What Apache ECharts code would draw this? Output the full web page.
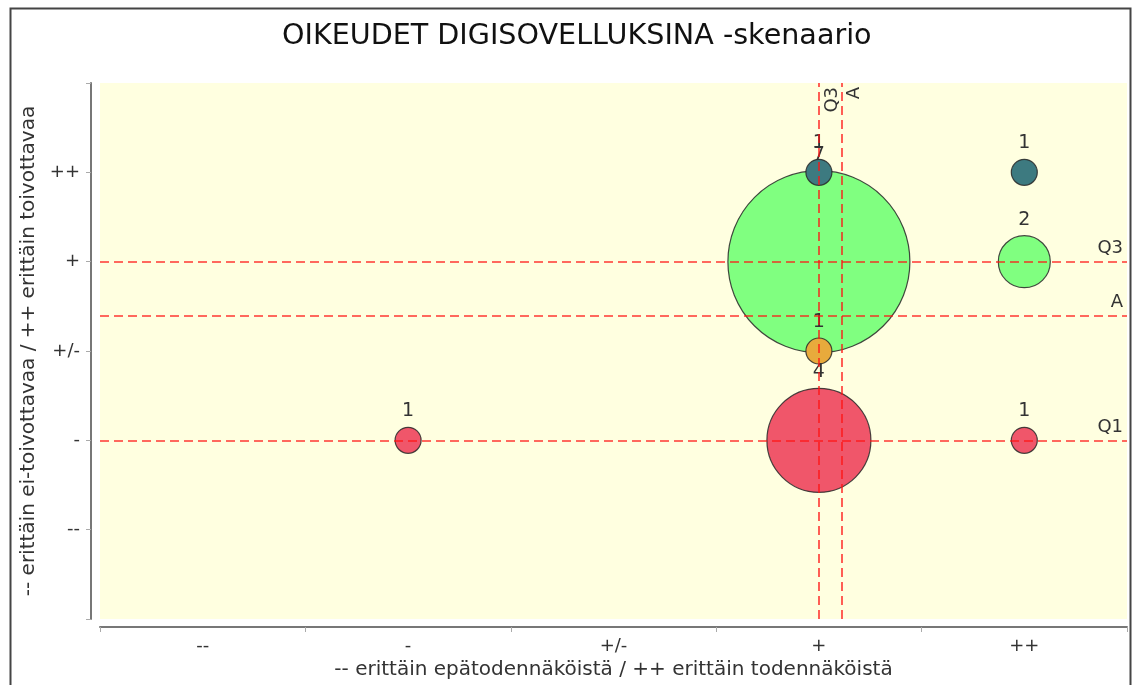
<!DOCTYPE html>
<html>
<head>
<meta charset="utf-8">
<script src="https://cdn.jsdelivr.net/npm/echarts@6/dist/echarts.min.js"></script>
<style>
html,body{margin:0;padding:0;background:#fff;}
#chart{width:1133px;height:685px;}
</style>
</head>
<body>
<div id="chart"></div>
<script>
var titleText = 'OIKEUDET DIGISOVELLUKSINA -skenaario';
var xCategories = ['--', '-', '+/-', '+', '++'];
var yTickLabels = ['', '--', '-', '+/-', '+', '++', ''];
var xAxisName = '-- erittäin epätodennäköistä / ++ erittäin todennäköistä';
var yAxisName = '-- erittäin ei-toivottavaa / ++ erittäin toivottavaa';

// [x position (1..5), y position (1..5), count]
var redPoints = [[2, 2, 1], [4, 2, 4], [5, 2, 1]];
var greenPoints = [[4, 4, 7], [5, 4, 2]];
var orangePoints = [[4, 3, 1]];
var tealPoints = [[4, 5, 1], [5, 5, 1]];

var hLines = [{ name: 'Q3', value: 4 }, { name: 'A', value: 3.4 }, { name: 'Q1', value: 2 }];
var vLines = [{ name: 'Q3', value: 4 }, { name: 'A', value: 4.11 }];

var FONT = 'DejaVu Sans';
var chart = echarts.init(document.getElementById('chart'));

function bubble(name, data, color) {
  return {
    type: 'scatter',
    name: name,
    xAxisIndex: 1,
    yAxisIndex: 0,
    data: data,
    symbolSize: function (v) { return v[2] * 26; },
    itemStyle: { color: color, borderColor: 'rgba(40,40,40,0.85)', borderWidth: 1.2, opacity: 1 },
    label: {
      show: true, position: 'top', distance: 6,
      formatter: function (p) { return p.value[2]; },
      fontFamily: FONT, fontSize: 19, color: '#333'
    },
    emphasis: { disabled: true },
    animation: false
  };
}

var lineStyle = { color: 'rgba(255,20,20,0.85)', width: 1.6, type: [9, 5] };
var mlLabel = { fontFamily: FONT, fontSize: 18, color: '#333', distance: 4 };

var option = {
  animation: false,
  backgroundColor: '#fff',
  title: {
    text: titleText, left: 277, top: 17,
    textStyle: { fontFamily: FONT, fontSize: 28.6, fontWeight: 'normal', color: '#111' }
  },
  graphic: [{
    type: 'rect', shape: { x: 10.5, y: 8.5, width: 1120, height: 700 },
    style: { fill: 'none', stroke: '#444', lineWidth: 2 }, silent: true, z: -1
  }],
  grid: {
    left: 100, right: 6, top: 83, bottom: 66,
    show: true, backgroundColor: '#ffffe0', borderWidth: 0
  },
  xAxis: [{
    type: 'category', data: xCategories, boundaryGap: true,
    offset: 8,
    axisLine: { onZero: false, lineStyle: { color: '#777', width: 2 } },
    axisTick: { show: true, length: 5, lineStyle: { color: '#aaa' }, alignWithLabel: false },
    axisLabel: { fontFamily: FONT, fontSize: 18, color: '#333', margin: 10 },
    splitLine: { show: false },
    name: xAxisName, nameLocation: 'middle', nameGap: 31,
    nameTextStyle: { fontFamily: FONT, fontSize: 20, color: '#333' }
  }, {
    type: 'value', min: 0.5, max: 5.5, show: false
  }],
  yAxis: [{
    type: 'value', min: 0, max: 6, interval: 1,
    offset: 9,
    axisLine: { show: true, onZero: false, lineStyle: { color: '#777', width: 2 } },
    axisTick: { show: true, length: 5, lineStyle: { color: '#aaa' } },
    axisLabel: {
      fontFamily: FONT, fontSize: 18, color: '#333', margin: 11,
      formatter: function (v) { return yTickLabels[v] || ''; }
    },
    splitLine: { show: false },
    name: yAxisName, nameLocation: 'middle', nameGap: 48,
    nameTextStyle: { fontFamily: FONT, fontSize: 20, color: '#333' }
  }],
  series: [
    bubble('red', redPoints, '#f0566a'),
    bubble('green', greenPoints, '#80ff80'),
    bubble('orange', orangePoints, '#e8aa3c'),
    bubble('teal', tealPoints, '#3d7a80'),
    {
      type: 'scatter', xAxisIndex: 1, yAxisIndex: 0, data: [], silent: true,
      markLine: {
        silent: true, symbol: 'none', animation: false,
        lineStyle: lineStyle,
        data: hLines.map(function (l) {
          return { yAxis: l.value, label: Object.assign({ show: true, position: 'insideEndTop', formatter: l.name }, mlLabel) };
        }).concat(vLines.map(function (l) {
          return { xAxis: l.value, label: Object.assign({ show: true, position: 'insideEndBottom', formatter: l.name }, mlLabel) };
        }))
      }
    }
  ]
};
chart.setOption(option);
</script>
</body>
</html>
